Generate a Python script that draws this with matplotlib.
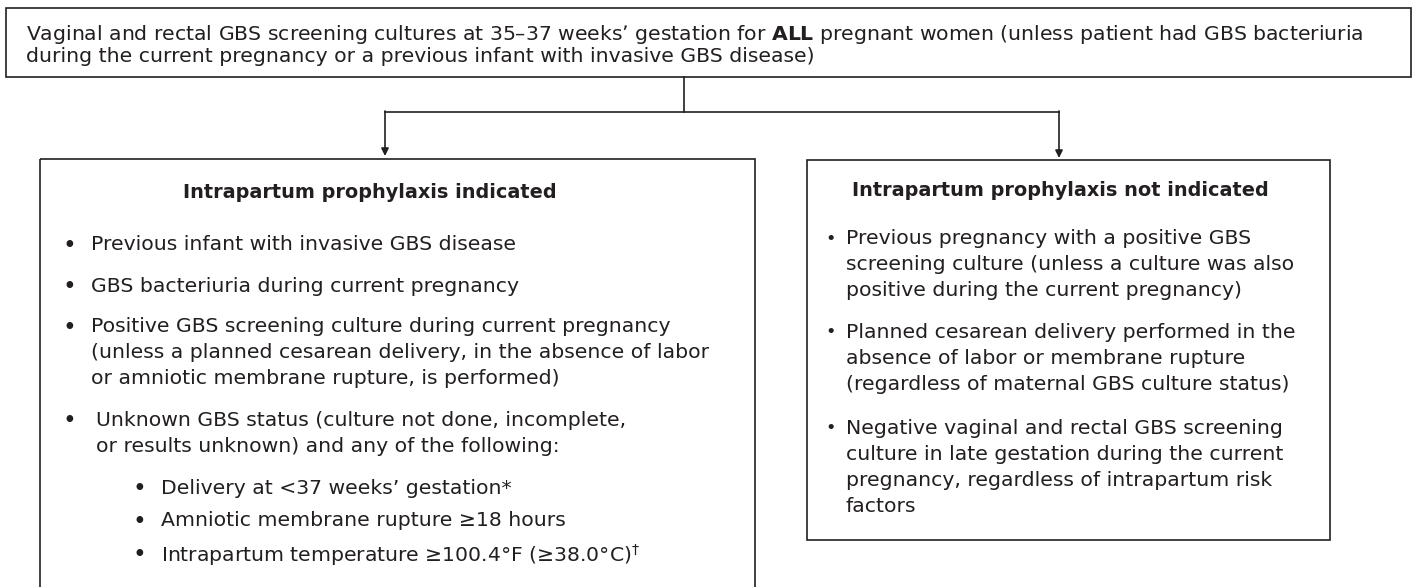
import matplotlib.pyplot as plt
from matplotlib.patches import Rectangle

plt.rcParams['font.family'] = ['DejaVu Sans']
plt.rcParams['mathtext.fontset'] = 'dejavusans'

INK = '#231f20'
FS = 14.7
FS_HEAD = 13.9

# text content
top_lines = [
    "Vaginal and rectal GBS screening cultures at 35\u201337 weeks\u2019 gestation for $\\mathbf{ALL}$ pregnant women (unless patient had GBS bacteriuria",
    "during the current pregnancy or a previous infant with invasive GBS disease)",
]
left_title = "Intrapartum prophylaxis indicated"
left_items = [
    ["Previous infant with invasive GBS disease"],
    ["GBS bacteriuria during current pregnancy"],
    ["Positive GBS screening culture during current pregnancy",
     "(unless a planned cesarean delivery, in the absence of labor",
     "or amniotic membrane rupture, is performed)"],
    ["Unknown GBS status (culture not done, incomplete,",
     "or results unknown) and any of the following:"],
]
left_sub = [
    "Delivery at <37 weeks\u2019 gestation*",
    "Amniotic membrane rupture \u226518 hours",
    "Intrapartum temperature \u2265100.4\u00b0F (\u226538.0\u00b0C)$^{\\dagger}$",
]
right_title = "Intrapartum prophylaxis not indicated"
right_items = [
    ["Previous pregnancy with a positive GBS",
     "screening culture (unless a culture was also",
     "positive during the current pregnancy)"],
    ["Planned cesarean delivery performed in the",
     "absence of labor or membrane rupture",
     "(regardless of maternal GBS culture status)"],
    ["Negative vaginal and rectal GBS screening",
     "culture in late gestation during the current",
     "pregnancy, regardless of intrapartum risk",
     "factors"],
]

fig = plt.figure(figsize=(14.15, 5.87), dpi=100)
ax = fig.add_axes([0, 0, 1, 1])
ax.set_xlim(0, 1415)
ax.set_ylim(587, 0)
ax.axis('off')

def box(x0, y0, x1, y1):
    ax.add_patch(Rectangle((x0, y0), x1 - x0, y1 - y0, fill=False,
                           edgecolor=INK, lw=1.2, clip_on=False))

def txt(x, y, s, **kw):
    kw.setdefault('fontsize', FS)
    ax.text(x, y, s, ha=kw.pop('ha', 'left'), va='center_baseline', color=INK, **kw)

LH = 26  # line height inside one item

# top box
box(6, 8, 1411, 77)
for i, line in enumerate(top_lines):
    txt(26, 31 + i * 23, line)

# connectors
ax.plot([684, 684], [77, 112], color=INK, lw=1.2)
ax.plot([385, 1059], [112, 112], color=INK, lw=1.2)
for xa, ya in [(385, 156), (1059, 158)]:
    ax.annotate('', xy=(xa, ya), xytext=(xa, 111),
                arrowprops=dict(arrowstyle='-|>', color=INK, lw=1.2,
                                mutation_scale=11, shrinkA=0, shrinkB=0))

# left box
box(40, 159, 755, 640)
txt(183, 191, left_title, fontsize=FS_HEAD, fontweight='bold')
for y0, item in zip([243, 284, 325, 418], left_items):
    txt(63, y0, '\u2022', fontsize=FS + 2)
    xt = 96 if item[0].startswith('Unknown') else 91
    for j, line in enumerate(item):
        txt(xt, y0 + j * LH, line)
for y, line in zip([486, 519, 552], left_sub):
    txt(133, y, '\u2022', fontsize=FS + 2)
    txt(161, y, line)

# right box
box(807, 160, 1330, 540)
txt(852, 188, right_title, fontsize=FS_HEAD, fontweight='bold')
for y0, item in zip([237, 330, 426], right_items):
    txt(825, y0, '\u2022', fontsize=FS - 2)
    for j, line in enumerate(item):
        txt(846, y0 + j * LH, line)

fig.savefig('out.png', dpi=100)
